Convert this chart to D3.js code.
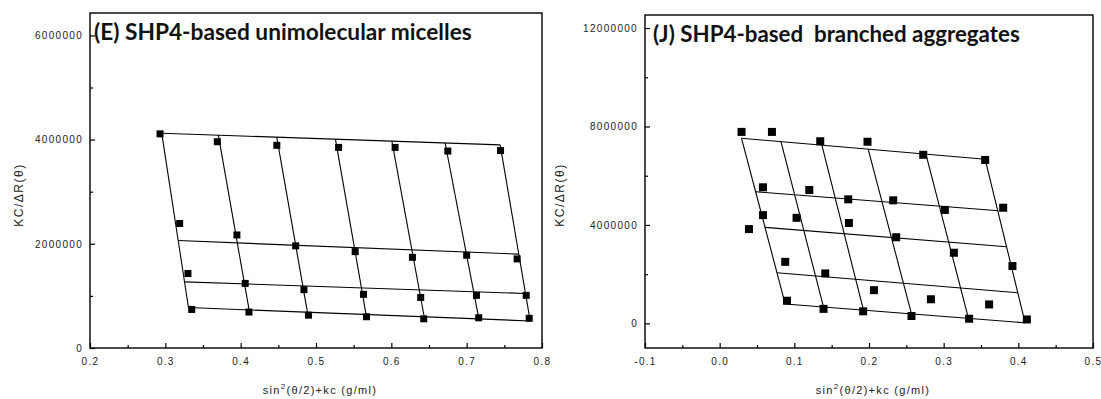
<!DOCTYPE html>
<html>
<head>
<meta charset="utf-8">
<script src="https://cdn.jsdelivr.net/npm/d3@7"></script>
<style>
  body { margin: 0; background: #fff; }
  svg { display: block; }
  .tick text { font-family: Arial, "Liberation Sans", sans-serif; font-size: 10px; letter-spacing: 1.3px; fill: #222; }
  .title { font-family: Lato, "Open Sans", sans-serif; font-weight: bold; white-space: pre; }
  .axis-label { font-family: Arial, "Liberation Sans", sans-serif; font-size: 11px; letter-spacing: 1.3px; fill: #222; }
  .y-label { font-size: 12px; letter-spacing: 1.5px; }
</style>
</head>
<body>
<svg id="chart" width="1101" height="399"></svg>
<script>
// ---- panel E: SHP4-based unimolecular micelles ----
const eTitle = '(E) SHP4-based unimolecular micelles';
// measured points, row by row (4 concentrations x 7 angles)
const eX = [
  0.293, 0.369, 0.448, 0.530, 0.605, 0.675, 0.745,
  0.319, 0.395, 0.473, 0.552, 0.628, 0.700, 0.767,
  0.330, 0.406, 0.484, 0.563, 0.639, 0.713, 0.779,
  0.335, 0.411, 0.490, 0.567, 0.643, 0.716, 0.783
];
const eY = [
  4.11e6, 3.96e6, 3.89e6, 3.85e6, 3.85e6, 3.78e6, 3.79e6,
  2.39e6, 2.17e6, 1.96e6, 1.85e6, 1.74e6, 1.78e6, 1.71e6,
  1.43e6, 1.24e6, 1.12e6, 1.03e6, 0.97e6, 1.01e6, 1.01e6,
  0.74e6, 0.69e6, 0.63e6, 0.60e6, 0.56e6, 0.58e6, 0.57e6
];
// fitted lines [x1, y1, x2, y2]
const eAngleLines = [
  [0.2952, 4.123e6, 0.3307, 0.777e6],
  [0.3704, 4.085e6, 0.4112, 0.731e6],
  [0.4479, 4.046e6, 0.4886, 0.687e6],
  [0.5258, 4.008e6, 0.5665, 0.642e6],
  [0.6007, 3.971e6, 0.6436, 0.600e6],
  [0.6714, 3.935e6, 0.7162, 0.558e6],
  [0.7445, 3.898e6, 0.7843, 0.519e6]
];
const eConcLines = [
  [0.2952, 4.123e6, 0.7445, 3.898e6],
  [0.3170, 2.062e6, 0.7692, 1.802e6],
  [0.3256, 1.269e6, 0.7781, 1.046e6],
  [0.3307, 0.777e6, 0.7843, 0.519e6]
];
const eXTicks = [0.2, 0.3, 0.4, 0.5, 0.6, 0.7, 0.8];
const eXMinor = [0.25, 0.35, 0.45, 0.55, 0.65, 0.75];
const eYTicks = [0, 2000000, 4000000, 6000000];
const eYMinor = [1000000, 3000000, 5000000];

// ---- panel J: SHP4-based branched aggregates ----
const jTitle = '(J) SHP4-based  branched aggregates';
const jX = [
  0.0293, 0.0700, 0.1347, 0.1980, 0.2726, 0.3556,
  0.0580, 0.1200, 0.1722, 0.2324, 0.3016, 0.3797,
  0.0392, 0.0580, 0.1030, 0.1731, 0.2364, 0.3137, 0.3921,
  0.0878, 0.1414, 0.2066, 0.2829, 0.3609,
  0.0901, 0.1391, 0.1922, 0.2569, 0.3341, 0.4114
];
const jY = [
  7.78e6, 7.78e6, 7.40e6, 7.38e6, 6.85e6, 6.64e6,
  5.53e6, 5.42e6, 5.04e6, 5.00e6, 4.61e6, 4.70e6,
  3.83e6, 4.40e6, 4.29e6, 4.08e6, 3.50e6, 2.87e6, 2.33e6,
  2.50e6, 2.03e6, 1.35e6, 0.98e6, 0.77e6,
  0.92e6, 0.59e6, 0.49e6, 0.30e6, 0.19e6, 0.16e6
];
const jAngleLines = [
  [0.0293, 7.520e6, 0.0878, 0.785e6],
  [0.0821, 7.382e6, 0.1391, 0.663e6],
  [0.1369, 7.240e6, 0.1926, 0.537e6],
  [0.1989, 7.077e6, 0.2569, 0.386e6],
  [0.2762, 6.874e6, 0.3332, 0.203e6],
  [0.3556, 6.667e6, 0.4091, 0.024e6]
];
const jConcLines = [
  [0.0293, 7.520e6, 0.3556, 6.667e6],
  [0.0482, 5.350e6, 0.3734, 4.577e6],
  [0.0608, 3.902e6, 0.3843, 3.114e6],
  [0.0767, 2.057e6, 0.3993, 1.244e6],
  [0.0878, 0.785e6, 0.4091, 0.024e6]
];
const jXTicks = [-0.1, 0.0, 0.1, 0.2, 0.3, 0.4, 0.5];
const jXMinor = [-0.05, 0.05, 0.15, 0.25, 0.35, 0.45];
const jYTicks = [0, 4000000, 8000000, 12000000];
const jYMinor = [2000000, 6000000, 10000000];

const svg = d3.select('#chart');
// plain hyphen for negatives, like the original plot
const fmtX = v => d3.format('.1f')(v).replace('\u2212', '-');

function drawPanel(p) {
  const x = d3.scaleLinear().domain(p.xDomain).range([p.left, p.right]);
  const y = d3.scaleLinear().domain(p.yDomain).range([p.bottom, p.top]);
  const g = svg.append('g');

  // minor ticks
  g.append('g')
    .attr('transform', `translate(0,${p.bottom})`)
    .call(d3.axisBottom(x).tickValues(p.xMinor).tickSize(-3).tickFormat(''))
    .call(a => a.select('.domain').remove());
  g.append('g')
    .attr('transform', `translate(${p.left},0)`)
    .call(d3.axisLeft(y).tickValues(p.yMinor).tickSize(-3).tickFormat(''))
    .call(a => a.select('.domain').remove());

  // major ticks + labels
  g.append('g')
    .attr('transform', `translate(0,${p.bottom})`)
    .call(d3.axisBottom(x).tickValues(p.xTicks).tickSize(-5).tickPadding(10).tickFormat(fmtX))
    .call(a => a.select('.domain').remove());
  g.append('g')
    .attr('transform', `translate(${p.left},0)`)
    .call(d3.axisLeft(y).tickValues(p.yTicks).tickSize(-5).tickPadding(7).tickFormat(d3.format('d')))
    .call(a => a.select('.domain').remove());

  g.selectAll('.tick line').attr('stroke', '#000').attr('stroke-width', 1.2);

  // frame
  g.append('rect')
    .attr('x', p.left).attr('y', p.top)
    .attr('width', p.right - p.left).attr('height', p.bottom - p.top)
    .attr('fill', 'none').attr('stroke', '#000').attr('stroke-width', 1.4);

  // grid of fitted lines
  g.append('g').selectAll('line')
    .data(p.angleLines.concat(p.concLines))
    .join('line')
    .attr('x1', d => x(d[0])).attr('y1', d => y(d[1]))
    .attr('x2', d => x(d[2])).attr('y2', d => y(d[3]))
    .attr('stroke', '#000').attr('stroke-width', 1.1);

  // points
  const s = p.markSize;
  g.append('g').selectAll('rect')
    .data(p.xs.map((v, i) => [v, p.ys[i]]))
    .join('rect')
    .attr('x', d => x(d[0]) - s / 2).attr('y', d => y(d[1]) - s / 2)
    .attr('width', s).attr('height', s)
    .attr('fill', '#000');

  // title
  const t = g.append('text')
    .attr('class', 'title')
    .attr('x', p.titleX).attr('y', p.titleY)
    .attr('font-size', 20)
    .attr('fill', '#111')
    .text(p.title);
  const w = t.node().getComputedTextLength();
  t.attr('font-size', 20 * p.titleWidth / w);

  // axis titles
  const xl = g.append('text')
    .attr('class', 'axis-label')
    .attr('text-anchor', 'middle')
    .attr('x', (p.left + p.right) / 2 + 4)
    .attr('y', 394);
  xl.append('tspan').text('sin');
  xl.append('tspan').attr('font-size', 8).attr('dy', -5).text('2');
  xl.append('tspan').attr('dy', 5).text('(θ/2)+kc (g/ml)');

  g.append('text')
    .attr('class', 'axis-label y-label')
    .attr('text-anchor', 'middle')
    .attr('transform', `translate(${p.yLabelX},195) rotate(-90)`)
    .text('KC/ΔR(θ)');
}

drawPanel({
  left: 90, right: 542, top: 13, bottom: 348,
  xDomain: [0.2, 0.8], yDomain: [0, 6.43e6],
  xTicks: eXTicks, xMinor: eXMinor, yTicks: eYTicks, yMinor: eYMinor,
  xs: eX, ys: eY, angleLines: eAngleLines, concLines: eConcLines,
  markSize: 7,
  title: eTitle, titleX: 94, titleY: 40, titleWidth: 378,
  yLabelX: 23
});

drawPanel({
  left: 645, right: 1093, top: 15, bottom: 348,
  xDomain: [-0.1, 0.5], yDomain: [-1.0e6, 12.53e6],
  xTicks: jXTicks, xMinor: jXMinor, yTicks: jYTicks, yMinor: jYMinor,
  xs: jX, ys: jY, angleLines: jAngleLines, concLines: jConcLines,
  markSize: 8,
  title: jTitle, titleX: 653, titleY: 42, titleWidth: 367,
  yLabelX: 564
});
</script>
</body>
</html>
